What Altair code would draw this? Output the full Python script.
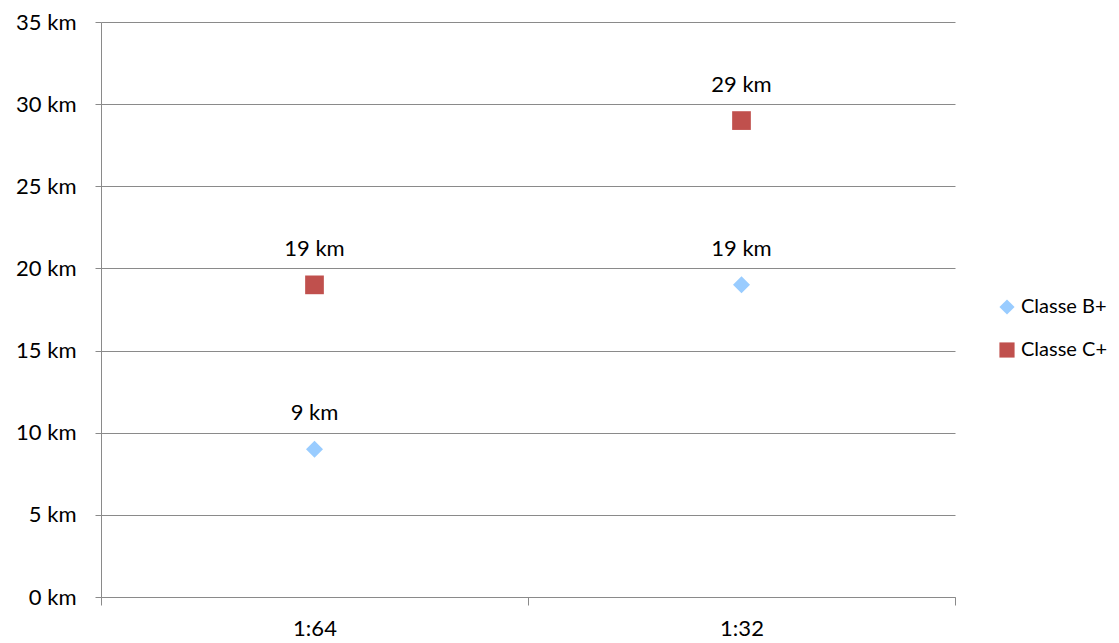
import altair as alt
import pandas as pd

categories = ["1:64", "1:32"]
series_names = ["Classe B+", "Classe C+"]
b_plus = [9, 19]
c_plus = [19, 29]

rows = []
for cat, v in zip(categories, b_plus):
    rows.append({"cat": cat, "series": series_names[0], "value": v})
for cat, v in zip(categories, c_plus):
    rows.append({"cat": cat, "series": series_names[1], "value": v})
df = pd.DataFrame(rows)

FONT = "Lato"
FS = 22
GRID = "#8a8a8a"

x_enc = alt.X(
    "cat:N",
    sort=categories,
    title=None,
    scale=alt.Scale(paddingInner=0, paddingOuter=0),
    axis=alt.Axis(
        labelAngle=0, tickBand="extent", tickSize=8, tickColor=GRID,
        domainColor=GRID, labelFontSize=FS, labelFont=FONT, labelColor="black",
        labelPadding=13, grid=False,
    ),
)
y_enc = alt.Y(
    "value:Q",
    title=None,
    scale=alt.Scale(domain=[0, 35], nice=False),
    axis=alt.Axis(
        values=[0, 5, 10, 15, 20, 25, 30, 35], labelExpr="datum.value + ' km'",
        tickSize=6, tickColor=GRID, domainColor=GRID, gridColor=GRID,
        labelFontSize=FS, labelFont=FONT, labelColor="black", labelPadding=19,
    ),
)
leg = alt.Legend(
    title=None, orient="none", legendX=896, legendY=275,
    labelFontSize=20, labelFont=FONT, labelColor="black", labelOffset=4,
    symbolSize=230, rowPadding=23, symbolStrokeWidth=0, symbolOpacity=1,
)
color_enc = alt.Color(
    "series:N",
    scale=alt.Scale(domain=series_names, range=["#99CCFF", "#C0504D"]),
    legend=leg,
)
shape_enc = alt.Shape(
    "series:N",
    scale=alt.Scale(domain=series_names, range=["diamond", "square"]),
    legend=leg,
)

base = alt.Chart(df)

pts_b = base.transform_filter(alt.datum.series == series_names[0]).mark_point(
    filled=True, opacity=1, size=290
).encode(x=x_enc, y=y_enc, color=color_enc, shape=shape_enc)

pts_c = base.transform_filter(alt.datum.series == series_names[1]).mark_point(
    filled=True, opacity=1, size=350
).encode(x=x_enc, y=y_enc, color=color_enc, shape=shape_enc)

labels = base.mark_text(
    dy=-36, fontSize=FS, font=FONT, color="black"
).encode(x=x_enc, y=y_enc, text=alt.Text("label:N")).transform_calculate(
    label="datum.value + ' km'"
)

chart = alt.layer(pts_b, pts_c, labels).properties(
    width=854, height=575, background="white",
    padding={"left": 93, "top": 14, "right": 156, "bottom": 46},
    autosize=alt.AutoSizeParams(type="none"),
).configure_view(
    strokeWidth=0, stroke="transparent"
).configure_axisX(grid=False)

chart.save("out.html", embed_options={"renderer": "svg", "actions": False})
